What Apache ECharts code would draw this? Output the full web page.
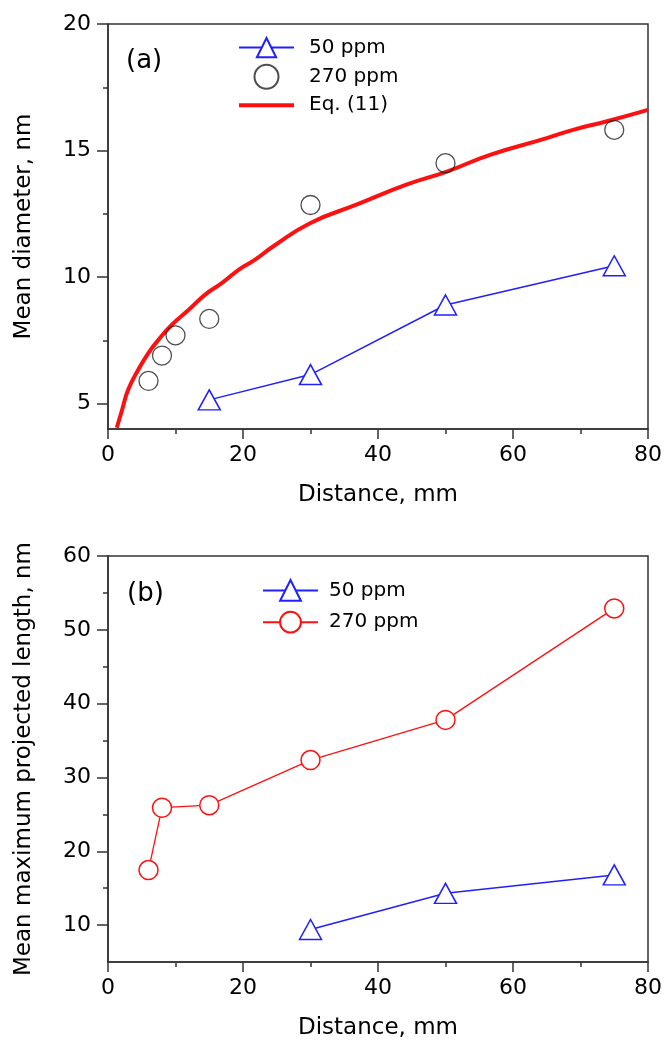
<!DOCTYPE html>
<html>
<head>
<meta charset="utf-8">
<script src="https://cdn.jsdelivr.net/npm/echarts@6/dist/echarts.min.js"></script>
<style>
  html, body { margin: 0; padding: 0; background: #fff; }
  #main { width: 666px; height: 1041px; }
</style>
</head>
<body>
<div id="main"></div>
<script>
// panel (a): mean diameter, nm
var aX50 = [15, 30, 50, 75];
var aY50 = [5.15, 6.15, 8.9, 10.45];
var aX270 = [6, 8, 10, 15, 30, 50, 75];
var aY270 = [5.9, 6.9, 7.7, 8.35, 12.85, 14.5, 15.82];
var eqX = [1.3, 2.1, 3.0, 4.5, 6.0, 7.5, 9.5, 12, 14.4, 16.9, 19.5, 21.8, 24.5, 30, 36.8, 44.2, 50.2, 56.6, 65, 68.9, 73.8, 80];
var eqY = [4.05, 4.77, 5.56, 6.35, 7.01, 7.53, 8.13, 8.72, 9.31, 9.77, 10.32, 10.69, 11.22, 12.14, 12.86, 13.65, 14.17, 14.83, 15.49, 15.82, 16.15, 16.61];

// panel (b): mean maximum projected length, nm
var bX50 = [30, 50, 75];
var bY50 = [9.4, 14.3, 16.8];
var bX270 = [6, 8, 15, 30, 50, 75];
var bY270 = [17.45, 25.9, 26.25, 32.35, 37.8, 52.9];

// tick labels
var aYTicks = [5, 10, 15, 20];
var aYMinor = [7.5, 12.5, 17.5];
var bYTicks = [10, 20, 30, 40, 50, 60];
var bYMinor = [15, 25, 35, 45, 55];

function zip(xs, ys) {
  return xs.map(function (x, i) { return [x, ys[i]]; });
}

var BLUE = '#2020ff';
var RED = '#ff1010';
var AXIS = '#333';
var FONT = 'DejaVu Sans';

var chart = echarts.init(document.getElementById('main'));

function xAxisFor(grid) {
  return {
    type: 'value', gridIndex: grid, min: 0, max: 80, interval: 20,
    name: 'Distance, mm', nameLocation: 'middle', nameGap: 55,
    nameTextStyle: { fontFamily: FONT, fontSize: 23, color: '#000' },
    axisLine: { show: true, lineStyle: { color: AXIS, width: 1.5 } },
    axisTick: { show: true, length: 10, lineStyle: { color: AXIS, width: 1.5 } },
    minorTick: { show: true, splitNumber: 2, length: 5, lineStyle: { color: AXIS, width: 1.5 } },
    axisLabel: { fontFamily: FONT, fontSize: 22, color: '#000', margin: 15 },
    splitLine: { show: false }
  };
}

function yMajor(grid, min, max, ticks, name, gap) {
  return {
    type: 'value', gridIndex: grid, min: min, max: max, position: 'left',
    name: name, nameLocation: 'middle', nameGap: gap,
    nameTextStyle: { fontFamily: FONT, fontSize: 23, color: '#000' },
    axisLine: { show: true, lineStyle: { color: AXIS, width: 1.5 } },
    axisTick: { show: true, length: 11, customValues: ticks, lineStyle: { color: AXIS, width: 1.5 } },
    axisLabel: { fontFamily: FONT, fontSize: 22, color: '#000', margin: 17, customValues: ticks },
    splitLine: { show: false }
  };
}

function yMinor(grid, min, max, ticks) {
  return {
    type: 'value', gridIndex: grid, min: min, max: max, position: 'left', offset: 0,
    axisLine: { show: false },
    axisTick: { show: true, length: 5, customValues: ticks, lineStyle: { color: AXIS, width: 1.5 } },
    axisLabel: { show: false },
    splitLine: { show: false }
  };
}

var option = {
  animation: false,
  backgroundColor: '#fff',
  grid: [
    { left: 108, right: 18, top: 24, height: 405, show: true, borderColor: AXIS, borderWidth: 1.5, containLabel: false },
    { left: 108, right: 18, top: 556, height: 407, show: true, borderColor: AXIS, borderWidth: 1.5, containLabel: false }
  ],
  xAxis: [xAxisFor(0), xAxisFor(1)],
  yAxis: [
    yMajor(0, 4, 20, aYTicks, 'Mean diameter, nm', 72),
    yMinor(0, 4, 20, aYMinor),
    yMajor(1, 5, 60, bYTicks, 'Mean maximum projected length, nm', 72),
    yMinor(1, 5, 60, bYMinor)
  ],
  legend: [
    {
      orient: 'vertical', left: 237, top: 37, padding: 0,
      itemWidth: 55, itemHeight: 24, itemGap: 5.5,
      data: [
        '50 ppm',
        '270 ppm',
        { name: 'Eq. (11)', itemStyle: { opacity: 0 }, lineStyle: { width: 4 } }
      ],
      textStyle: { fontFamily: FONT, fontSize: 20, color: '#000', padding: [0, 0, 0, 10] },
      selectedMode: false
    },
    {
      orient: 'vertical', left: 262, top: 579, padding: 0,
      itemWidth: 55, itemHeight: 26, itemGap: 9,
      data: ['50 ppm (b)', '270 ppm (b)'],
      formatter: function (n) { return n.replace(' (b)', ''); },
      textStyle: { fontFamily: FONT, fontSize: 20, color: '#000', padding: [0, 0, 0, 6] },
      selectedMode: false
    }
  ],
  graphic: [
    { type: 'text', left: 126, top: 48, style: { text: '(a)', font: '26px "DejaVu Sans"', fill: '#000' } },
    { type: 'text', left: 127, top: 581, style: { text: '(b)', font: '26px "DejaVu Sans"', fill: '#000' } }
  ],
  series: [
    {
      name: 'Eq. (11)', type: 'line', xAxisIndex: 0, yAxisIndex: 0,
      data: zip(eqX, eqY), symbol: 'none', smooth: true, z: 2,
      lineStyle: { color: RED, width: 4 }, itemStyle: { color: RED }
    },
    {
      name: '50 ppm', type: 'line', xAxisIndex: 0, yAxisIndex: 0,
      data: zip(aX50, aY50), symbol: 'triangle', symbolSize: [22, 20], z: 3,
      lineStyle: { color: BLUE, width: 1.5 },
      itemStyle: { color: '#fff', borderColor: BLUE, borderWidth: 1.5 }
    },
    {
      name: '270 ppm', type: 'scatter', xAxisIndex: 0, yAxisIndex: 0,
      data: zip(aX270, aY270), symbol: 'circle', symbolSize: 19, z: 4,
      itemStyle: { color: 'rgba(255,255,255,0)', borderColor: '#222', borderWidth: 1.3 }
    },
    {
      name: '50 ppm (b)', type: 'line', xAxisIndex: 1, yAxisIndex: 2,
      data: zip(bX50, bY50), symbol: 'triangle', symbolSize: [22, 20], z: 3,
      lineStyle: { color: BLUE, width: 1.5 },
      itemStyle: { color: '#fff', borderColor: BLUE, borderWidth: 1.5 }
    },
    {
      name: '270 ppm (b)', type: 'line', xAxisIndex: 1, yAxisIndex: 2,
      data: zip(bX270, bY270), symbol: 'circle', symbolSize: 19, z: 3,
      lineStyle: { color: RED, width: 1.3 },
      itemStyle: { color: '#fff', borderColor: RED, borderWidth: 1.5 }
    }
  ]
};

chart.setOption(option);
</script>
</body>
</html>
